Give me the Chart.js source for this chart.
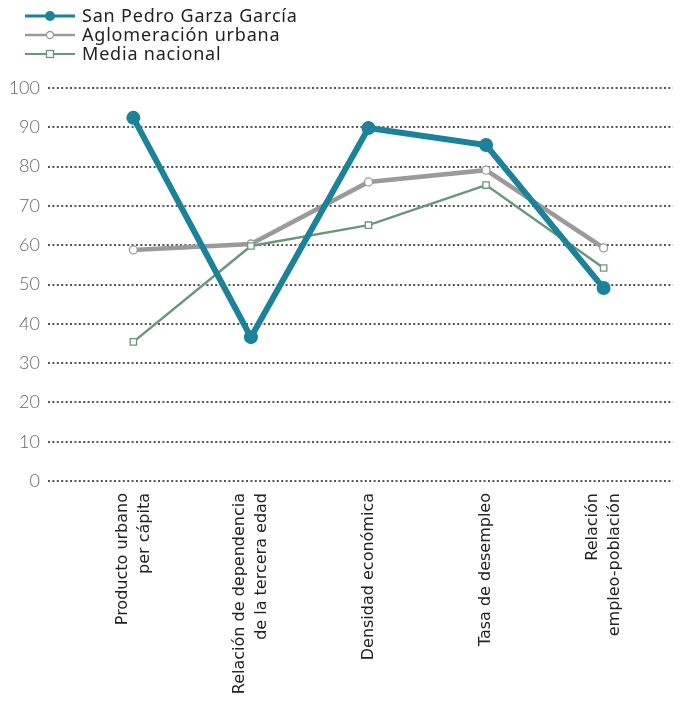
<!DOCTYPE html>
<html><head><meta charset="utf-8">
<script src="https://cdn.jsdelivr.net/npm/chart.js@4"></script>
<style>html,body{margin:0;padding:0;background:#fff}#wrap{width:680px;height:704px}</style>
</head><body><div id="wrap"><canvas id="c" width="680" height="704"></canvas></div>
<script>
const categories = [
  ["Producto urbano", "per cápita"],
  ["Relación de dependencia", "de la tercera edad"],
  ["Densidad económica"],
  ["Tasa de desempleo"],
  ["Relación", "empleo-población"]
];
const seriesNames = ["San Pedro Garza García", "Aglomeración urbana", "Media nacional"];
const sanPedro = [92.4, 36.6, 89.8, 85.5, 49.1];
const aglomeracion = [58.8, 60.3, 76.1, 79.1, 59.3];
const mediaNacional = [35.4, 59.8, 65.1, 75.3, 54.2];
const yTicks = [0, 10, 20, 30, 40, 50, 60, 70, 80, 90, 100];

const TEAL = '#1b8299', GRAY = '#9a9a9a', GREEN = '#6c967a';
const toPts = arr => arr.map((v, i) => ({x: i, y: v}));

const legendPlugin = {
  id: 'customLegend',
  afterDraw(chart) {
    const ctx = chart.ctx;
    const rows = [16, 35, 54];
    ctx.save();
    [0, 1, 2].forEach((di, r) => {
      const ds = chart.data.datasets[di];
      const y = rows[r];
      ctx.strokeStyle = ds.borderColor;
      ctx.lineWidth = di === 0 ? 3 : (di === 1 ? 2.5 : 2);
      ctx.beginPath(); ctx.moveTo(25, y); ctx.lineTo(75, y); ctx.stroke();
      ctx.lineWidth = 1.3;
      if (di === 0) {
        ctx.fillStyle = TEAL; ctx.beginPath(); ctx.arc(50, y, 5, 0, Math.PI * 2); ctx.fill();
      } else if (di === 1) {
        ctx.fillStyle = '#fff'; ctx.strokeStyle = GRAY;
        ctx.beginPath(); ctx.arc(50, y, 3.5, 0, Math.PI * 2); ctx.fill(); ctx.stroke();
      } else {
        ctx.fillStyle = '#fff'; ctx.strokeStyle = GREEN;
        ctx.fillRect(46.5, y - 3.5, 7, 7); ctx.strokeRect(46.5, y - 3.5, 7, 7);
      }
      ctx.fillStyle = '#222';
      ctx.font = '18px "Noto Sans"';
      if ('letterSpacing' in ctx) ctx.letterSpacing = '0.8px';
      ctx.textBaseline = 'middle';
      ctx.textAlign = 'left';
      ctx.fillText(ds.label, 82, y + 1);
      if ('letterSpacing' in ctx) ctx.letterSpacing = '0px';
    });
    ctx.restore();
  }
};

const xLabelPlugin = {
  id: 'xLabels',
  afterDraw(chart) {
    const ctx = chart.ctx;
    const xs = chart.scales.x;
    const lh = 22;
    ctx.save();
    ctx.fillStyle = '#222';
    ctx.font = '16px "DejaVu Sans"';
    ctx.textAlign = 'right';
    ctx.textBaseline = 'middle';
    categories.forEach((lines, i) => {
      const px = xs.getPixelForValue(i);
      lines.forEach((t, j) => {
        const cx = px + (j - (lines.length - 1) / 2) * lh;
        ctx.save();
        ctx.translate(cx, xs.top + 12);
        ctx.rotate(-Math.PI / 2);
        ctx.fillText(t, 0, 0);
        ctx.restore();
      });
    });
    ctx.restore();
  }
};

new Chart(document.getElementById('c'), {
  type: 'line',
  data: {
    datasets: [
      {label: seriesNames[0], data: toPts(sanPedro), borderColor: TEAL, backgroundColor: TEAL,
       borderWidth: 6, pointRadius: 7, pointBackgroundColor: TEAL, pointBorderWidth: 0, order: 0},
      {label: seriesNames[1], data: toPts(aglomeracion), borderColor: GRAY, backgroundColor: '#fff',
       borderWidth: 4.5, pointRadius: 4, pointBackgroundColor: '#fff', pointBorderColor: GRAY, pointBorderWidth: 1.3, order: 2},
      {label: seriesNames[2], data: toPts(mediaNacional), borderColor: GREEN, backgroundColor: '#fff',
       borderWidth: 2.5, pointStyle: 'rect', pointRadius: 4.5, pointBackgroundColor: '#fff', pointBorderColor: GREEN, pointBorderWidth: 1.3, order: 1}
    ]
  },
  options: {
    responsive: false,
    animation: false,
    layout: {padding: {top: 88, right: 2, left: 0, bottom: 0}},
    plugins: {legend: {display: false}, tooltip: {enabled: false}},
    scales: {
      x: {
        type: 'linear', min: -0.726, max: 4.59,
        afterBuildTicks: s => { s.ticks = categories.map((_, i) => ({value: i})); },
        afterFit: s => { s.height = 223; },
        grid: {display: false},
        border: {display: false},
        ticks: {display: false}
      },
      y: {
        min: 0, max: 100,
        afterBuildTicks: s => { s.ticks = yTicks.map(v => ({value: v})); },
        afterFit: s => { s.width = 48; },
        grid: {color: '#555', lineWidth: 2, drawTicks: false},
        border: {display: false, dash: [2, 2.4]},
        ticks: {padding: 8, color: '#666', font: {family: 'Lato', size: 18, weight: 300}}
      }
    }
  },
  plugins: [legendPlugin, xLabelPlugin]
});
</script></body></html>
